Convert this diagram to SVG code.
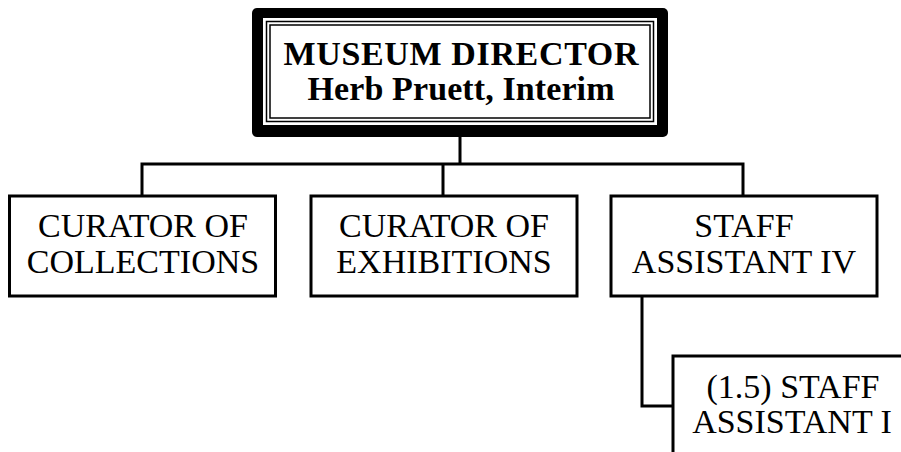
<svg xmlns="http://www.w3.org/2000/svg" width="901" height="452" viewBox="0 0 901 452">
<style>
.box{fill:#fff;stroke:#000;stroke-width:3}
.t{font-family:"Liberation Serif","Times New Roman",serif;font-size:34px;fill:#000;text-anchor:middle}
.b{font-weight:bold}
.c{fill:none;stroke:#000;stroke-width:3}
.thin{fill:none;stroke:#000;stroke-width:1.5}
</style>
<rect width="901" height="452" fill="#fff"/>
<g id="connectors">
<path class="c" d="M460 137V164M142 196V164H743V196M443 164V196"/>
<path class="c" d="M642 296V406H673"/>
</g>
<g id="director">
<rect x="252" y="8" width="416" height="129" rx="5" fill="#000"/>
<rect x="263" y="18" width="394" height="107" fill="#fff"/>
<rect x="266.5" y="21.5" width="387" height="100" class="thin"/>
<rect x="270" y="25" width="380" height="93" class="thin"/>
<text class="t b" x="461" y="65" textLength="355" lengthAdjust="spacing">MUSEUM DIRECTOR</text>
<text class="t b" x="461" y="100" textLength="307" lengthAdjust="spacing">Herb Pruett, Interim</text>
</g>
<g id="collections">
<rect class="box" x="9.5" y="196" width="266" height="100"/>
<text class="t" x="143" y="237">CURATOR OF</text>
<text class="t" x="143" y="273">COLLECTIONS</text>
</g>
<g id="exhibitions">
<rect class="box" x="311" y="196" width="266" height="100"/>
<text class="t" x="444" y="237">CURATOR OF</text>
<text class="t" x="444" y="273">EXHIBITIONS</text>
</g>
<g id="staff4">
<rect class="box" x="611" y="196" width="266" height="100"/>
<text class="t" x="744" y="237">STAFF</text>
<text class="t" x="744" y="273">ASSISTANT IV</text>
</g>
<g id="staff1">
<rect class="box" x="673" y="356" width="240" height="110"/>
<text class="t" x="793" y="398">(1.5) STAFF</text>
<text class="t" x="792" y="433">ASSISTANT I</text>
</g>
</svg>
